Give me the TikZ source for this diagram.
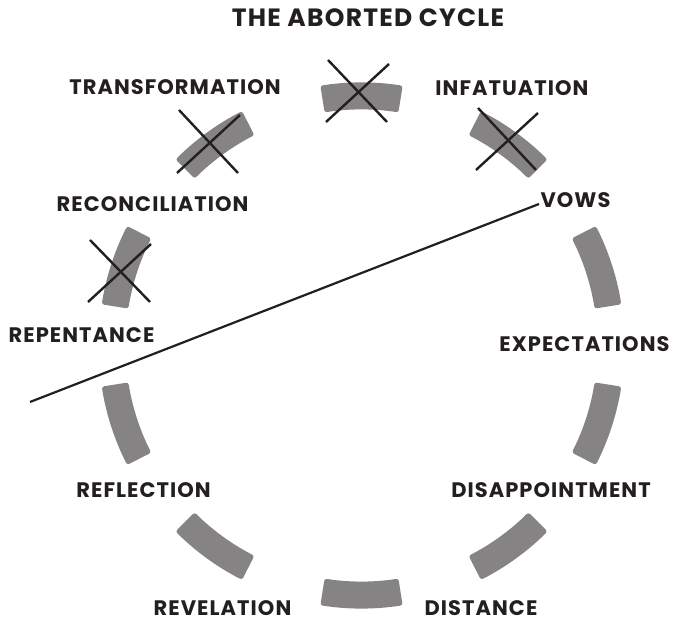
\documentclass[tikz,border=0pt]{standalone}
\usepackage{fontspec}
\setmainfont{Poppins}
\newfontfamily\labfont[LetterSpace=5]{Poppins}
\definecolor{ink}{HTML}{231F20}
\definecolor{segcol}{HTML}{858384}
\begin{document}
\begin{tikzpicture}[x=1pt,y=1pt,
  seg/.style={fill=segcol, rounded corners=2.5pt},
  lab/.style={font=\labfont\bfseries\fontsize{21}{21}\selectfont, text=ink, inner sep=0pt, anchor=center},
  cross/.style={draw=ink, line width=2.4pt},
  rule/.style={draw=ink, line width=2.2pt}]
\useasboundingbox (0,0) rectangle (673,623);
\coordinate (C) at (361.5,277.5);
\foreach \a in {90,126,...,414} {
  \fill[seg] ([shift={(\a-9:236)}]C) arc[start angle=\a-9, end angle=\a+9, radius=236]
     -- ([shift={(\a+9:263)}]C) arc[start angle=\a+9, end angle=\a-9, radius=263] -- cycle;
}
% crosses
\draw[cross] (328,563) -- (387,501);
\draw[cross] (389,559) -- (326,501);
\draw[cross] (478,515) -- (536,453);
\draw[cross] (538,510) -- (476,453);
\draw[cross] (179,513) -- (238,450);
\draw[cross] (240,508) -- (177,450);
\draw[cross] (90,383) -- (150,321);
\draw[cross] (151,379) -- (88,321);
% labels
\node[lab, font=\labfont\bfseries\fontsize{25}{25}\selectfont] (title) at (368,605) {THE ABORTED CYCLE};
\node[lab] (transf) at (175,535.5) {TRANSFORMATION};
\node[lab] (infat) at (512,535) {INFATUATION};
\node[lab] (vows) at (575.5,423) {VOWS};
\node[lab] (recon) at (152.5,418.5) {RECONCILIATION};
\node[lab] (repent) at (81.5,288) {REPENTANCE};
\node[lab] (expect) at (584.5,278.5) {EXPECTATIONS};
\node[lab] (reflect) at (143.5,132.5) {REFLECTION};
\node[lab] (disapp) at (551,132.5) {DISAPPOINTMENT};
\node[lab] (revel) at (222.5,14.5) {REVELATION};
\node[lab] (dist) at (481,14.5) {DISTANCE};
% abort line
\coordinate (L1) at (30,221);
\coordinate (L2) at (539,419);
\draw[rule] (L1) -- (L2);
\end{tikzpicture}
\end{document}
